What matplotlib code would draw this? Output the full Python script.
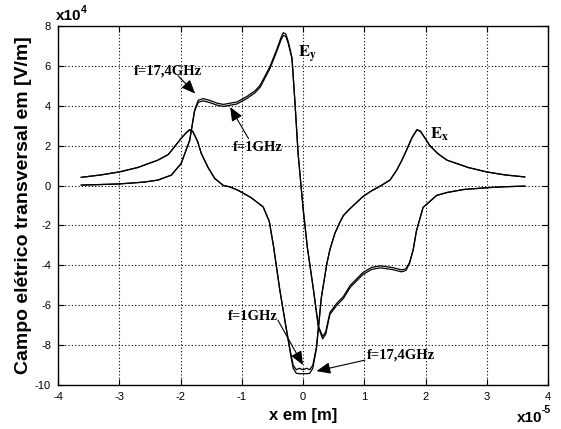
import numpy as np
import matplotlib.pyplot as plt

# x in units of 1e-5 m, field in units of 1e4 V/m
ex_x = [-3.62, -3.3, -3.0, -2.7, -2.37, -2.2, -2.1, -1.98, -1.9, -1.85, -1.8, -1.72,
        -1.66, -1.55, -1.44, -1.3, -1.19, -1.06, -0.85, -0.65, -0.55, -0.48, -0.38,
        -0.27, -0.2, -0.16, -0.11, -0.06, 0.0, 0.06, 0.11, 0.16, 0.22, 0.3, 0.39,
        0.44, 0.52, 0.6, 0.66, 0.77, 0.98, 1.1, 1.26, 1.42, 1.53, 1.62, 1.69, 1.78,
        1.86, 1.92, 2.07, 2.2, 2.35, 2.7, 3.0, 3.3, 3.62]
ex_1ghz = [0.41, 0.53, 0.68, 0.9, 1.27, 1.55, 1.93, 2.4, 2.65, 2.78, 2.7, 2.2,
           1.6, 0.9, 0.35, 0.0, -0.07, -0.24, -0.6, -1.07, -1.8, -3.07, -5.2,
           -7.2, -8.4, -9.0, -9.22, -9.15, -9.22, -9.15, -9.22, -9.0, -8.07, -5.6, -3.9,
           -3.2, -2.4, -1.85, -1.5, -1.15, -0.55, -0.3, -0.03, 0.27, 0.77, 1.3, 1.77, 2.4,
           2.78, 2.7, 2.0, 1.6, 1.27, 0.9, 0.68, 0.53, 0.43]
ex_17ghz = [0.41, 0.53, 0.68, 0.9, 1.27, 1.55, 1.93, 2.4, 2.67, 2.8, 2.72, 2.2,
            1.6, 0.9, 0.35, 0.0, -0.07, -0.24, -0.6, -1.07, -1.8, -3.07, -5.2,
            -7.25, -8.5, -9.15, -9.4, -9.42, -9.42, -9.42, -9.4, -9.15, -8.15, -5.6, -3.9,
            -3.2, -2.4, -1.85, -1.5, -1.15, -0.55, -0.3, -0.03, 0.27, 0.77, 1.3, 1.77, 2.4,
            2.8, 2.72, 2.0, 1.6, 1.27, 0.9, 0.68, 0.53, 0.43]

ey_x = [-3.62, -3.3, -3.0, -2.6, -2.37, -2.15, -1.99, -1.85, -1.77, -1.71, -1.63,
        -1.52, -1.40, -1.30, -1.08, -0.92, -0.78, -0.70, -0.54, -0.43, -0.36, -0.32,
        -0.28, -0.24, -0.18, -0.13, -0.08, 0.0, 0.07, 0.17, 0.25, 0.32, 0.37, 0.44,
        0.55, 0.66, 0.77, 0.98, 1.12, 1.26, 1.45, 1.61, 1.68, 1.74, 1.80, 1.85, 1.96,
        2.18, 2.35, 2.62, 3.0, 3.3, 3.62]
ey_17ghz = [0.02, 0.05, 0.08, 0.17, 0.27, 0.52, 1.10, 2.26, 3.77, 4.27, 4.35,
            4.26, 4.12, 4.06, 4.18, 4.45, 4.75, 5.02, 5.95, 6.80, 7.40, 7.65,
            7.58, 7.20, 6.40, 4.10, 1.60, -1.10, -3.07, -5.20, -7.07, -7.68, -7.45, -6.45,
            -6.00, -5.65, -5.10, -4.45, -4.20, -4.12, -4.20, -4.32, -4.25, -3.90, -3.20, -2.30, -1.10,
            -0.50, -0.35, -0.20, -0.11, -0.06, -0.03]
ey_1ghz = [0.02, 0.05, 0.08, 0.17, 0.27, 0.52, 1.10, 2.26, 3.72, 4.17, 4.24,
           4.15, 4.02, 3.96, 4.08, 4.35, 4.65, 4.92, 5.85, 6.70, 7.28, 7.52,
           7.46, 7.10, 6.35, 4.10, 1.60, -1.10, -3.07, -5.20, -7.02, -7.55, -7.33, -6.35,
           -5.90, -5.55, -5.00, -4.35, -4.10, -4.02, -4.10, -4.22, -4.17, -3.85, -3.20, -2.30, -1.10,
           -0.50, -0.35, -0.20, -0.11, -0.06, -0.03]

plt.rcParams['font.family'] = 'Liberation Sans'
plt.rcParams['axes.unicode_minus'] = False

W, H = 561, 429
fig = plt.figure(figsize=(W / 100, H / 100), dpi=100)
ax = fig.add_axes([58 / W, 1 - 385.3 / H, 490 / W, 359.6 / H])

for ys in (ex_1ghz, ex_17ghz):
    ax.plot(ex_x, ys, color='k', lw=0.9)
for ys in (ey_1ghz, ey_17ghz):
    ax.plot(ey_x, ys, color='k', lw=0.9)

ax.set_xlim(-4, 4)
ax.set_ylim(-10, 8)
ax.set_xticks(np.arange(-4, 5, 1))
ax.set_yticks(np.arange(-10, 9, 2))
ax.grid(True, color='k', linestyle=(0, (1, 2)), lw=0.8)
ax.tick_params(direction='in', top=True, right=True, length=4, labelsize=8, pad=5)
for s in ax.spines.values():
    s.set_linewidth(1.0)

ax.set_xlabel('x em [m]', fontsize=12, fontweight='bold', labelpad=4)
ax.set_ylabel('Campo elétrico transversal em [V/m]', fontsize=14, fontweight='bold', labelpad=2)

# axis multipliers
fig.text(56 / W, 1 - 20 / H, 'x10', fontsize=11, fontweight='bold', va='baseline')
fig.text(81 / W, 1 - 13 / H, '4', fontsize=7.5, fontweight='bold', va='baseline')
fig.text(517 / W, 1 - 422 / H, 'x10', fontsize=11, fontweight='bold', va='baseline')
fig.text(542 / W, 1 - 413 / H, '-5', fontsize=7.5, fontweight='bold', va='baseline')

serif = dict(family='Liberation Serif', fontweight='bold', fontsize=10.5)
arrow = dict(arrowstyle='-|>,head_length=0.6,head_width=0.25', color='k', lw=0.8,
             mutation_scale=14, shrinkA=0, shrinkB=0)

ax.text(-2.21, 5.73, 'f=17,4GHz', ha='center', va='center', **serif)
ax.annotate('', xy=(-1.76, 4.6), xytext=(-2.04, 5.5), arrowprops=arrow)

ax.text(-0.73, 1.91, 'f=1GHz', ha='center', va='center', **serif)
ax.annotate('', xy=(-1.19, 3.93), xytext=(-0.89, 2.35), arrowprops=arrow)

ax.text(-0.82, -6.57, 'f=1GHz', ha='center', va='center', **serif)
ax.annotate('', xy=(0.0, -8.99), xytext=(-0.41, -6.74), arrowprops=arrow)

ax.text(1.6, -8.48, 'f=17,4GHz', ha='center', va='center', **serif)
ax.annotate('', xy=(0.22, -9.29), xytext=(1.01, -8.74), arrowprops=arrow)

ax.text(-0.08, 6.41, r'$\mathbf{E}_\mathbf{y}$', fontsize=12, math_fontfamily='stix', va='baseline')
ax.text(2.07, 2.36, r'$\mathbf{E}_\mathbf{x}$', fontsize=12, math_fontfamily='stix', va='baseline')

fig.savefig('out.png', dpi=100)
